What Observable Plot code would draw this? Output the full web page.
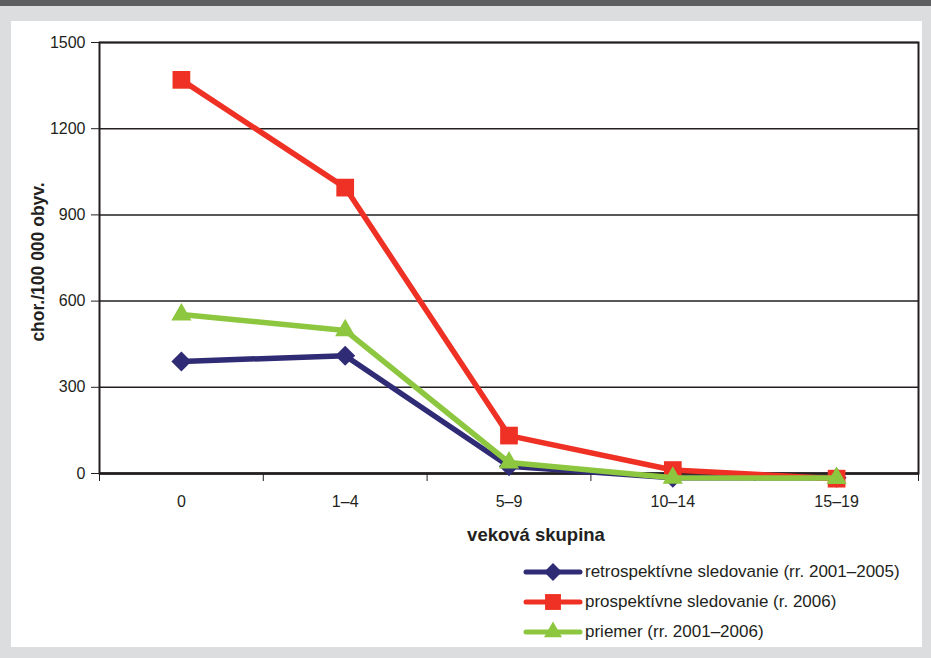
<!DOCTYPE html>
<html>
<head>
<meta charset="utf-8">
<script src="https://cdn.jsdelivr.net/npm/d3@7"></script>
<script src="https://cdn.jsdelivr.net/npm/@observablehq/plot@0.6"></script>
<style>
  html, body { margin: 0; padding: 0; }
  body { width: 931px; height: 658px; overflow: hidden; background: #dcdddf; position: relative;
         font-family: "Liberation Sans", Arial, sans-serif; }
  #topbar { position: absolute; left: 0; top: 0; width: 931px; height: 6px; background: #5e5f61; }
  #panel { position: absolute; left: 11px; top: 21px; width: 911px; height: 626px; background: #ffffff; }
  #chart { position: absolute; left: 0; top: 0; }
  #legend { position: absolute; left: 523px; top: 557px; color: #231f20; font-size: 17px; }
  #legend .row { display: flex; align-items: center; height: 30px; }
  #legend svg { margin-right: 2px; }
</style>
</head>
<body>
<div id="topbar"></div>
<div id="panel"></div>
<div id="chart"></div>
<div id="legend"></div>
<script>
// ---- data ----
const categories = ["0", "1–4", "5–9", "10–14", "15–19"];
const retrospektivne = [390, 410, 25, -15, -15];
const prospektivne = [1370, 995, 132, 12, -18];
const priemer = [553, 498, 38, -15, -16];
const yTicks = [0, 300, 600, 900, 1200, 1500];
const seriesNames = [
  "retrospektívne sledovanie (rr. 2001–2005)",
  "prospektívne sledovanie (r. 2006)",
  "priemer (rr. 2001–2006)"
];
const seriesColors = ["#2f2b74", "#ee3124", "#8dc63f"];
const seriesSymbols = ["diamond2", "square", "triangle"];
const seriesR = [9, 10, 7.5];
const seriesValues = [retrospektivne, prospektivne, priemer];

const rows = [];
seriesValues.forEach((vals, s) => vals.forEach((v, i) => rows.push({s, i, cat: categories[i], v})));

const ink = "#231f20";
const boundaries = d3.range(categories.length + 1).map(i => i - 0.5);

const marks = [
  Plot.gridY(yTicks, {stroke: ink, strokeOpacity: 1, strokeWidth: 1.5}),
  Plot.frame({stroke: ink, strokeWidth: 2}),
  Plot.axisY({ticks: yTicks, tickSize: 8, tickPadding: 6, tickFormat: d3.format("d"),
              label: null, stroke: ink, fontSize: 16}),
  Plot.axisX({ticks: boundaries, tickSize: 8, tickFormat: () => "", label: null, stroke: ink}),
  Plot.axisX({ticks: d3.range(categories.length), tickSize: 0, tickPadding: 22,
              tickFormat: i => categories[i], label: null, fontSize: 16}),
  Plot.ruleY([0], {stroke: ink, strokeWidth: 2.5})
];
seriesValues.forEach((vals, s) => {
  const data = rows.filter(d => d.s === s);
  marks.push(Plot.line(data, {x: "i", y: "v", stroke: seriesColors[s], strokeWidth: 5.5,
                              strokeLinejoin: "round", strokeLinecap: "round"}));
  marks.push(Plot.dot(data, {x: "i", y: "v", symbol: () => seriesSymbols[s], r: seriesR[s],
                             fill: seriesColors[s], stroke: "none"}));
});
marks.push(Plot.text(["chor./100 000 obyv."], {frameAnchor: "left", textAnchor: "middle",
  dx: -61, dy: 4, rotate: -90, fontWeight: "bold", fontSize: 17.5, fill: ink}));
marks.push(Plot.text(["veková skupina"], {frameAnchor: "bottom", dx: 27, dy: 67,
  fontWeight: "bold", fontSize: 18.5, fill: ink}));

const chart = Plot.plot({
  width: 931, height: 658,
  marginLeft: 99, marginRight: 13, marginTop: 42, marginBottom: 185,
  x: {domain: [-0.5, categories.length - 0.5]},
  y: {domain: [0, 1500]},
  style: {background: "transparent", color: ink, overflow: "visible",
          fontFamily: '"Liberation Sans", Arial, sans-serif'},
  marks
});
document.getElementById("chart").appendChild(chart);

// ---- legend ----
const legend = d3.select("#legend");
const symMap = {diamond2: d3.symbolDiamond2, square: d3.symbolSquare, triangle: d3.symbolTriangle};
seriesNames.forEach((name, s) => {
  const row = legend.append("div").attr("class", "row");
  const svg = row.append("svg").attr("width", 60).attr("height", 24);
  svg.append("line").attr("x1", 3).attr("x2", 57).attr("y1", 12).attr("y2", 12)
     .attr("stroke", seriesColors[s]).attr("stroke-width", 5).attr("stroke-linecap", "round");
  svg.append("path").attr("transform", "translate(30,12)")
     .attr("d", d3.symbol(symMap[seriesSymbols[s]], Math.PI * seriesR[s] * seriesR[s] * 0.8)())
     .attr("fill", seriesColors[s]);
  row.append("span").text(name);
});
</script>
</body>
</html>
